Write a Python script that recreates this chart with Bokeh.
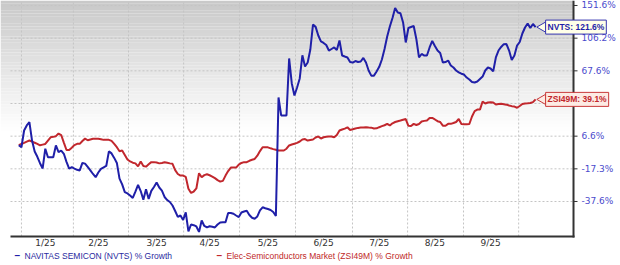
import numpy as np
from bokeh.plotting import figure
from bokeh.models import Range1d, Label, BoxAnnotation
from bokeh.embed import file_html
from bokeh.resources import INLINE

# ---------------- data (cumulative % growth, one value per trading day) -------------
nvts_pct = [
    0.0, -1.5, 11.5, 15.9, 18.8, 3.4, -4.6, -8.5, -13.2, -17.0,
    -2.6, -8.8, -8.8, -8.8, -0.2, -5.1, -3.9, -6.3, -12.2, -17.1,
    -16.1, -17.1, -17.9, -18.3, -13.0, -13.5, -15.9, -18.3, -20.5, -22.5,
    -19.6, -17.3, -16.3, -15.2, -4.5, -6.0, -9.3, -13.0, -23.4, -27.0,
    -31.8, -32.6, -33.9, -35.4, -31.5, -27.3, -31.1, -36.5, -30.0, -36.0,
    -31.0, -28.6, -25.8, -28.9, -30.8, -34.8, -36.7, -37.9, -40.1, -43.5,
    -47.2, -46.3, -49.1, -44.4, -56.2, -51.9, -52.3, -53.1, -56.5, -49.4,
    -52.8, -53.7, -53.0, -53.3, -53.7, -51.9, -50.6, -50.5, -50.5, -44.7,
    -44.7, -45.2, -46.3, -47.3, -44.4, -43.8, -43.3, -46.0, -47.7, -48.3,
    -46.9, -43.1, -41.2, -41.8, -42.3, -42.9, -44.1, -46.6, 41.0, 24.6,
    24.6, 24.6, 82.2, 55.0, 43.0, 51.0, 60.0, 86.0, 72.7, 77.4,
    92.8, 125.0, 121.9, 109.9, 102.3, 100.5, 98.1, 91.6, 93.4, 95.2,
    92.2, 103.4, 85.7, 84.5, 83.4, 78.0, 77.4, 79.2, 78.0, 78.6,
    82.8, 77.4, 68.0, 62.8, 62.8, 66.9, 72.3, 81.0, 93.4, 108.5,
    122.4, 134.2, 148.1, 141.9, 140.8, 128.0, 101.1, 120.3, 121.7, 123.1,
    105.2, 83.4, 87.5, 85.7, 85.7, 95.2, 102.9, 96.9, 91.6, 88.7,
    77.4, 78.0, 79.8, 73.9, 71.5, 68.0, 66.1, 64.7, 63.9, 60.9,
    58.9, 56.4, 55.9, 56.9, 59.4, 61.9, 68.0, 71.5, 70.4, 67.0,
    83.4, 91.6, 95.8, 99.1, 99.3, 91.6, 80.4, 85.7, 97.5, 101.7,
    112.7, 121.0, 126.6, 120.3, 125.9, 121.6,
]
zsi_pct = [
    0.0, 0.9, 1.7, 2.6, 3.4, 2.6, 1.8, 0.9, -0.1, 0.4,
    0.9, 3.4, 5.8, 6.1, 6.6, 8.9, 7.6, 1.9, -3.5, -3.5,
    -1.8, 0.1, 1.0, 1.0, 3.1, 4.8, 3.6, 4.2, 4.7, 4.7,
    4.7, 4.4, 3.9, 3.9, 3.9, 3.1, 0.9, -1.5, -4.4, -3.9,
    -7.2, -10.5, -11.9, -12.8, -13.3, -15.5, -12.0, -15.2, -15.7, -14.0,
    -12.4, -12.4, -12.7, -13.3, -13.0, -12.5, -12.9, -13.3, -13.6, -18.1,
    -20.5, -21.5, -21.5, -22.3, -29.7, -32.3, -31.4, -29.5, -20.0, -22.5,
    -21.2, -20.7, -21.3, -22.1, -23.1, -24.3, -25.2, -24.8, -21.5, -18.7,
    -16.4, -16.4, -16.4, -14.2, -13.0, -12.4, -12.4, -11.4, -10.7, -10.1,
    -7.7, -4.3, -1.5, -1.5, -1.6, -2.3, -2.9, -3.4, -3.9, -3.9,
    -3.9, -2.6, -0.2, 0.5, 1.1, 1.7, 2.7, 4.2, 4.5, 3.4,
    3.8, 4.2, 5.6, 6.4, 4.9, 5.8, 6.2, 6.4, 6.4, 5.8,
    7.7, 11.5, 12.4, 13.2, 14.3, 12.0, 12.6, 13.3, 13.8, 14.1,
    14.2, 14.4, 14.1, 14.0, 13.3, 13.4, 14.4, 15.3, 16.1, 17.3,
    15.9, 17.8, 18.9, 19.6, 20.2, 20.9, 21.5, 15.6, 15.4, 17.3,
    16.3, 17.2, 19.4, 19.9, 20.2, 22.3, 22.4, 21.1, 19.6, 18.9,
    15.7, 15.6, 17.3, 17.3, 18.0, 18.9, 21.5, 17.2, 16.9, 16.9,
    17.2, 23.7, 28.4, 29.7, 29.7, 37.0, 35.0, 36.0, 36.3, 36.0,
    34.1, 34.5, 34.7, 34.4, 34.0, 33.3, 32.7, 32.3, 31.3, 32.8,
    34.6, 35.0, 35.2, 35.5, 36.4, 39.1,
]
days = list(range(len(nvts_pct)))

month_labels = ["1/25", "2/25", "3/25", "4/25", "5/25", "6/25", "7/25", "8/25", "9/25"]
month_label_day = [10, 30, 52, 72, 94, 115, 136, 157, 178]
month_start_day = [1.0, 20.6, 41.4, 62.2, 83.3, 104.4, 125.9, 146.7, 167.8, 188.6]

y_tick_pct = [-37.6, -17.3, 6.6, 35.0, 67.6, 106.2, 151.6]
y_tick_text = ["-37.6%", "-17.3%", "6.6%", "", "67.6%", "106.2%", "151.6%"]

nvts_name = "NAVITAS SEMICON (NVTS) % Growth"
zsi_name = "Elec-Semiconductors Market (ZSI49M) % Growth"

# ---------------- colours ----------------
BLUE = "#1f1fa8"
RED = "#c1272d"
AXIS = "#333333"
GRID = "#c4c4c4"

# value axis: evenly spaced gridlines at uneven % steps -> piecewise-linear map
tv = np.array(y_tick_pct, dtype=float)
ti = np.arange(len(tv), dtype=float)


def to_axis(v):
    v = np.asarray(v, dtype=float)
    out = np.interp(v, tv, ti)
    lo = v < tv[0]
    out[lo] = (v[lo] - tv[0]) / (tv[1] - tv[0])
    hi = v > tv[-1]
    out[hi] = ti[-1] + (v[hi] - tv[-1]) / (tv[-1] - tv[-2])
    return out


# whole canvas is the frame; axes are drawn by hand so labels/callouts are not clipped
W, H = 620, 265
X0, X1 = -6.903, 227.03          # day range across the canvas
Y0, Y1 = -1.9592, 6.153          # gridline-index range across the canvas
PX_X = (X1 - X0) / W             # days per pixel
PX_Y = (Y1 - Y0) / H             # index units per pixel
AX_LEFT, AX_RIGHT, AX_BOTTOM = -3.13, 209.3, -1.0714

p = figure(width=W, height=H, x_range=Range1d(X0, X1), y_range=Range1d(Y0, Y1),
           x_axis_type=None, y_axis_type=None, toolbar_location=None,
           output_backend="svg", min_border=0)
p.outline_line_color = None
p.background_fill_color = "white"
p.border_fill_color = "white"
p.xgrid.visible = False
p.ygrid.visible = False

# background gradient inside the plotting area
n_bands = 40
fade_end = 2.17
for k in range(n_bands):
    top = Y1 - (Y1 - fade_end) * k / n_bands
    bot = Y1 - (Y1 - fade_end) * (k + 1) / n_bands
    g = int(round(200 + 55 * (k + 0.5) / n_bands))
    p.add_layout(BoxAnnotation(top=top, bottom=bot, right=AX_RIGHT,
                               fill_color=f"#{g:02x}{g:02x}{g:02x}",
                               fill_alpha=1.0, line_alpha=0, level="image"))

# grid lines
p.segment(x0=[AX_LEFT] * len(ti), x1=[AX_RIGHT] * len(ti), y0=ti, y1=ti,
          line_color=GRID, line_dash="2 2", line_width=1)
p.segment(x0=month_start_day, x1=month_start_day,
          y0=[AX_BOTTOM] * len(month_start_day), y1=[Y1] * len(month_start_day),
          line_color=GRID, line_dash="2 2", line_width=1)

# series
p.line(days, to_axis(zsi_pct), line_color=RED, line_width=2)
p.line(days, to_axis(nvts_pct), line_color=BLUE, line_width=2)

# axes
p.segment(x0=[AX_LEFT], x1=[AX_RIGHT + PX_X], y0=[AX_BOTTOM], y1=[AX_BOTTOM],
          line_color=AXIS, line_width=2)
p.segment(x0=[AX_RIGHT], x1=[AX_RIGHT], y0=[AX_BOTTOM - PX_Y], y1=[Y1],
          line_color=AXIS, line_width=2)
p.segment(x0=[AX_RIGHT] * len(ti), x1=[AX_RIGHT + 4 * PX_X] * len(ti), y0=ti, y1=ti,
          line_color=AXIS, line_width=1)
p.segment(x0=month_label_day, x1=month_label_day,
          y0=[AX_BOTTOM - PX_Y] * len(month_label_day),
          y1=[AX_BOTTOM - 3 * PX_Y] * len(month_label_day),
          line_color="#bbbbbb", line_width=1)

for yi, txt in zip(ti, y_tick_text):
    if txt:
        p.add_layout(Label(x=AX_RIGHT, y=yi, x_offset=8, text=txt,
                           text_align="left", text_baseline="middle",
                           text_font="DejaVu Sans", text_font_size="9px",
                           text_color="#4a4acc"))
for d, txt in zip(month_label_day, month_labels):
    p.add_layout(Label(x=d, y=AX_BOTTOM - 7 * PX_Y, text=txt,
                       text_align="center", text_baseline="middle",
                       text_font="DejaVu Sans", text_font_size="9px",
                       text_color=AXIS))

# end-of-line callouts
callouts = [
    (nvts_pct[-1], f"NVTS: {nvts_pct[-1]:.1f}%", BLUE, "#ffffe8", "#3535b0"),
    (zsi_pct[-1], f"ZSI49M: {zsi_pct[-1]:.1f}%", RED, "#fdebe4", "#c83a3a"),
]
for val, txt, tcol, bg, bcol in callouts:
    yy = float(to_axis([val])[0])
    p.scatter([days[-1] + 7 * PX_X], [yy], marker="triangle", angle=np.pi / 2, size=10,
              fill_color=bg, line_color=bcol, line_width=1)
    p.add_layout(Label(x=days[-1], y=yy, x_offset=10, text=txt,
                       text_align="left", text_baseline="middle",
                       text_font="Liberation Sans", text_font_size="8.5px",
                       text_font_style="bold", text_color=tcol,
                       background_fill_color=bg, border_line_color=bcol,
                       border_line_width=1, padding=2))

# legend below the axis
legend_items = [(nvts_name, BLUE, "#2a2aa0", 14), (zsi_name, RED, "#c02828", 216)]
for name, lcol, tcol, x0 in legend_items:
    p.add_layout(Label(x=x0, y=H - 255, x_units="screen", y_units="screen", text="–",
                       text_align="left", text_baseline="middle", text_font="Liberation Sans",
                       text_font_size="10px", text_font_style="bold", text_color=lcol))
    p.add_layout(Label(x=x0 + 10, y=H - 255, x_units="screen", y_units="screen", text=name,
                       text_align="left", text_baseline="middle", text_font="Liberation Sans",
                       text_font_size="8.5px", text_color=tcol))

open("out.html", "w").write(file_html(p, INLINE))
